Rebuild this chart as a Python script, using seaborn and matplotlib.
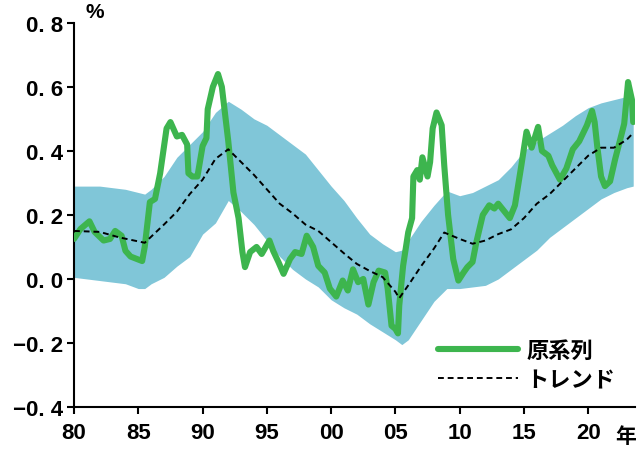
import pandas as pd
import seaborn as sns
import matplotlib.pyplot as plt

# original series (year, %)
orig_years = [1980.0, 1980.5, 1981.2, 1981.6, 1982.3, 1982.8, 1983.2, 1983.7, 1984.0, 1984.4,
              1985.3, 1985.5, 1985.9, 1986.3, 1986.7, 1987.2, 1987.5, 1988.0, 1988.4, 1988.8,
              1988.9, 1989.2, 1989.6, 1990.0, 1990.3, 1990.4, 1990.8, 1991.2, 1991.5, 1992.0,
              1992.4, 1992.8, 1993.1, 1993.3, 1993.7, 1994.2, 1994.6, 1995.2, 1995.5, 1995.9,
              1996.3, 1996.8, 1997.2, 1997.7, 1998.1, 1998.6, 1999.0, 1999.5, 1999.9, 2000.4,
              2000.9, 2001.3, 2001.7, 2002.1, 2002.5, 2002.9, 2003.3, 2003.7, 2004.2, 2004.4,
              2004.7, 2005.0, 2005.2, 2005.3, 2005.6, 2006.0, 2006.3, 2006.4, 2006.7, 2006.9,
              2007.1, 2007.5, 2007.7, 2007.9, 2008.2, 2008.6, 2008.8, 2009.1, 2009.5, 2009.9,
              2010.3, 2010.6, 2011.0, 2011.3, 2011.8, 2012.3, 2012.7, 2013.0, 2013.5, 2013.9,
              2014.3, 2014.8, 2015.2, 2015.6, 2016.1, 2016.4, 2016.9, 2017.2, 2017.8, 2018.3,
              2018.8, 2019.3, 2019.9, 2020.3, 2020.5, 2020.7, 2021.0, 2021.3, 2021.7, 2022.1,
              2022.5, 2022.8, 2023.1, 2023.4, 2023.5]
orig_values = [0.125, 0.156, 0.18, 0.147, 0.12, 0.125, 0.15, 0.135, 0.088, 0.07,
               0.056, 0.10, 0.24, 0.25, 0.33, 0.47, 0.49, 0.445, 0.45, 0.42,
               0.33, 0.32, 0.32, 0.415, 0.44, 0.53, 0.60, 0.64, 0.60, 0.43,
               0.27, 0.19, 0.084, 0.037, 0.084, 0.10, 0.078, 0.12, 0.087, 0.053,
               0.016, 0.062, 0.084, 0.078, 0.135, 0.10, 0.041, 0.02, -0.03, -0.055,
               -0.005, -0.036, 0.03, -0.01, 0.0, -0.08, -0.01, 0.026, 0.02, -0.03,
               -0.146, -0.156, -0.17, -0.083, 0.041, 0.146, 0.19, 0.32, 0.34, 0.31,
               0.38, 0.32, 0.365, 0.47, 0.52, 0.48, 0.355, 0.20, 0.062, -0.005,
               0.02, 0.037, 0.053, 0.115, 0.20, 0.23, 0.22, 0.235, 0.21, 0.19,
               0.23, 0.355, 0.46, 0.41, 0.475, 0.40, 0.385, 0.355, 0.31, 0.345,
               0.405, 0.43, 0.48, 0.525, 0.49, 0.415, 0.32, 0.29, 0.305, 0.375,
               0.437, 0.485, 0.615, 0.56, 0.49]

# trend
trend_years = [1980, 1982, 1983.5, 1985.5, 1987, 1988, 1989, 1990, 1991, 1992, 1993, 1994,
               1995, 1996, 1997, 1998, 1999, 2000, 2001, 2002, 2003, 2004, 2005, 2005.3,
               2006, 2007, 2008, 2008.8, 2010, 2011, 2012, 2013, 2014, 2015, 2016, 2017,
               2018, 2019, 2020, 2021, 2022, 2023, 2023.4]
trend_values = [0.15, 0.147, 0.13, 0.113, 0.17, 0.21, 0.265, 0.31, 0.375, 0.405, 0.365, 0.325,
                0.28, 0.235, 0.205, 0.17, 0.15, 0.115, 0.08, 0.047, 0.025, 0.006, -0.04, -0.06,
                -0.02, 0.04, 0.095, 0.145, 0.125, 0.11, 0.12, 0.14, 0.155, 0.19, 0.235, 0.265,
                0.305, 0.345, 0.385, 0.41, 0.41, 0.435, 0.452]

# band
band_years = [1980, 1981, 1982, 1983, 1984, 1985, 1985.5, 1986, 1987, 1988, 1989, 1990, 1991,
              1992, 1993, 1994, 1995, 1996, 1997, 1998, 1999, 2000, 2001, 2002, 2003, 2004,
              2005, 2005.5, 2006, 2007, 2008, 2009, 2010, 2011, 2012, 2013, 2014, 2015, 2016,
              2017, 2018, 2019, 2020, 2021, 2022, 2023, 2023.5]
band_upper = [0.29, 0.29, 0.29, 0.285, 0.28, 0.27, 0.265, 0.28, 0.32, 0.38, 0.42, 0.46, 0.52,
              0.555, 0.53, 0.50, 0.48, 0.45, 0.42, 0.39, 0.34, 0.29, 0.245, 0.19, 0.14, 0.11,
              0.085, 0.09, 0.12, 0.18, 0.23, 0.275, 0.26, 0.27, 0.29, 0.31, 0.35, 0.40, 0.43,
              0.455, 0.48, 0.51, 0.535, 0.55, 0.56, 0.57, 0.575]
band_lower = [0.005, 0.0, -0.005, -0.01, -0.015, -0.03, -0.03, -0.015, 0.005, 0.04, 0.07, 0.14,
              0.175, 0.245, 0.21, 0.17, 0.12, 0.07, 0.03, 0.0, -0.025, -0.065, -0.09, -0.11,
              -0.14, -0.165, -0.19, -0.205, -0.19, -0.13, -0.07, -0.03, -0.03, -0.025, -0.02,
              0.0, 0.03, 0.06, 0.09, 0.13, 0.16, 0.19, 0.22, 0.25, 0.27, 0.285, 0.29]

x_ticks = [1980, 1985, 1990, 1995, 2000, 2005, 2010, 2015, 2020]
x_labels = ["80", "85", "90", "95", "00", "05", "10", "15", "20"]
y_ticks = [-0.4, -0.2, 0.0, 0.2, 0.4, 0.6, 0.8]
y_labels = ["\u22120. 4", "\u22120. 2", "0. 0", "0. 2", "0. 4", "0. 6", "0. 8"]

sns.set_style("ticks")
plt.rcParams['font.family'] = ['Liberation Sans', 'DejaVu Sans']
jp_font = ["Noto Sans CJK JP", "DejaVu Sans"]

orig = pd.DataFrame({"year": orig_years, "value": orig_values})
trend = pd.DataFrame({"year": trend_years, "value": trend_values})

fig = plt.figure(figsize=(6.42, 4.52), dpi=100)
ax = fig.add_axes([0.1153, 0.0973, 0.874, 0.85])

ax.fill_between(band_years, band_lower, band_upper, color="#80c6d8", linewidth=0, zorder=1)
sns.lineplot(data=orig, x="year", y="value", ax=ax, color="#3db54e", linewidth=4.4,
             label="原系列", zorder=3)
sns.lineplot(data=trend, x="year", y="value", ax=ax, color="black", linewidth=1.4,
             linestyle=(0, (3, 2)), label="トレンド", zorder=4)

ax.set_xlim(1980, 2023.65)
ax.set_ylim(-0.4, 0.8)
ax.set_xticks(x_ticks)
ax.set_xticklabels(x_labels)
ax.set_yticks(y_ticks)
ax.set_yticklabels(y_labels)
ax.set_xlabel("")
ax.set_ylabel("")
ax.tick_params(axis="both", direction="out", length=5, width=1.5, labelsize=16,
               colors="black")
ax.tick_params(axis="x", pad=6)
ax.tick_params(axis="y", pad=3)
for lab in ax.get_xticklabels() + ax.get_yticklabels():
    lab.set_fontweight("bold")
sns.despine(ax=ax)
for side in ["left", "bottom"]:
    ax.spines[side].set_linewidth(1.5)
    ax.spines[side].set_color("black")

ax.text(0.02, 1.005, "%", transform=ax.transAxes, fontsize=15, fontweight="bold",
        ha="left", va="bottom", color="black")
fig.text(0.974, 0.035, "年", fontsize=15, fontweight="bold", family=jp_font,
         ha="center", va="center", color="black")

leg = ax.legend(loc="lower right", bbox_to_anchor=(1.0, -0.011), frameon=False,
                handlelength=3.6, handletextpad=0.35, labelspacing=0.3,
                prop={"family": jp_font, "size": 16, "weight": "bold"})
for t in leg.get_texts():
    t.set_color("black")

fig.savefig("out.png", dpi=100)
